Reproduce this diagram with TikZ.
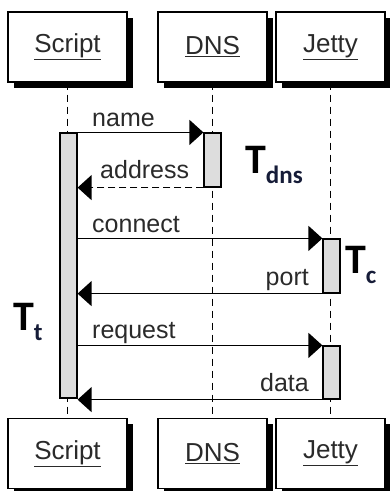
\documentclass[tikz,border=0pt]{standalone}
\usepackage{fontspec}
\setmainfont{Liberation Sans}
\newfontfamily\calibfont{Carlito}
\usetikzlibrary{arrows.meta,shadows}
\definecolor{txt}{HTML}{2A2A2A}
\definecolor{barfill}{HTML}{DDDDDD}
\definecolor{subcol}{HTML}{161C38}
\tikzset{
  actor/.style={draw=black, line width=1.3pt, fill=white, text=txt,
    minimum height=70pt, inner sep=0pt,
    font=\fontsize{26}{30}\selectfont,
    drop shadow={shadow xshift=5.5pt, shadow yshift=-5.5pt, fill=black, opacity=1}},
  lifeline/.style={draw=black, line width=1.1pt, dash pattern=on 7pt off 5pt},
  activebar/.style={draw=black, line width=1.2pt, fill=barfill, minimum width=17pt, inner sep=0pt},
  msg/.style={line width=1.3pt, -{Triangle[length=14pt,width=25pt]}},
  reply/.style={msg, dash pattern=on 7pt off 4pt},
  msglabel/.style={text=txt, font=\fontsize{25}{30}\selectfont, inner sep=0pt},
  timelabel/.style={inner sep=0pt, anchor=base west},
}
\newcommand{\timeT}[1]{{\calibfont\bfseries\fontsize{42}{42}\selectfont T}\raisebox{-10pt}{\calibfont\bfseries\fontsize{25}{25}\selectfont\color{subcol}#1}}
\begin{document}
\begin{tikzpicture}[x=1pt,y=-1pt]
  \useasboundingbox (0,0) rectangle (390,491);

  % participants, head and foot
  \node[actor, minimum width=119pt] (sTop) at (67.5,47) {\underline{Script}};
  \node[actor, minimum width=109pt] (dTop) at (212.5,47) {\underline{DNS}};
  \node[actor, minimum width=109pt] (jTop) at (330.5,47) {\underline{Jetty}};
  \node[actor, minimum width=119pt] (sBot) at (67.5,453.5) {\underline{Script}};
  \node[actor, minimum width=109pt] (dBot) at (212.5,453.5) {\underline{DNS}};
  \node[actor, minimum width=109pt] (jBot) at (330.5,453.5) {\underline{Jetty}};

  % lifelines
  \draw[lifeline] (sTop.south) -- (sBot.north);
  \draw[lifeline] (dTop.south) -- (dBot.north);
  \draw[lifeline] (jTop.south) -- (jBot.north);

  % activation bars
  \node[activebar, minimum height=265pt] (sBar) at (68.5,265.5) {};
  \node[activebar, minimum height=54pt] (dBar) at (212.5,160) {};
  \node[activebar, minimum height=54pt] (jBarA) at (331.5,266) {};
  \node[activebar, minimum height=53pt] (jBarB) at (331.5,372.5) {};

  % messages
  \draw[msg] (sBar.north east) -- (dBar.north west);
  \draw[reply] (dBar.south west) -- (sBar.east |- dBar.south west);
  \draw[msg] (sBar.east |- jBarA.north west) -- (jBarA.north west);
  \draw[msg] (jBarA.south west) -- (sBar.east |- jBarA.south west);
  \draw[msg] (sBar.east |- jBarB.north west) -- (jBarB.north west);
  \draw[msg] (jBarB.south west) -- (sBar.east |- jBarB.south west);

  % message labels
  \node[msglabel, anchor=base west] (lName) at (92,126) {name};
  \node[msglabel, anchor=base west] (lAddr) at (100,178) {address};
  \node[msglabel, anchor=base west] (lConn) at (92,232) {connect};
  \node[msglabel, anchor=base east] (lPort) at (309,285) {port};
  \node[msglabel, anchor=base west] (lReq) at (92,338) {request};
  \node[msglabel, anchor=base east] (lData) at (309,391) {data};

  % timing labels
  \node[timelabel] (tDns) at (245,173) {\timeT{dns}};
  \node[timelabel] (tC) at (345,273) {\timeT{c}};
  \node[timelabel] (tT) at (13,330) {\timeT{t}};
\end{tikzpicture}
\end{document}
